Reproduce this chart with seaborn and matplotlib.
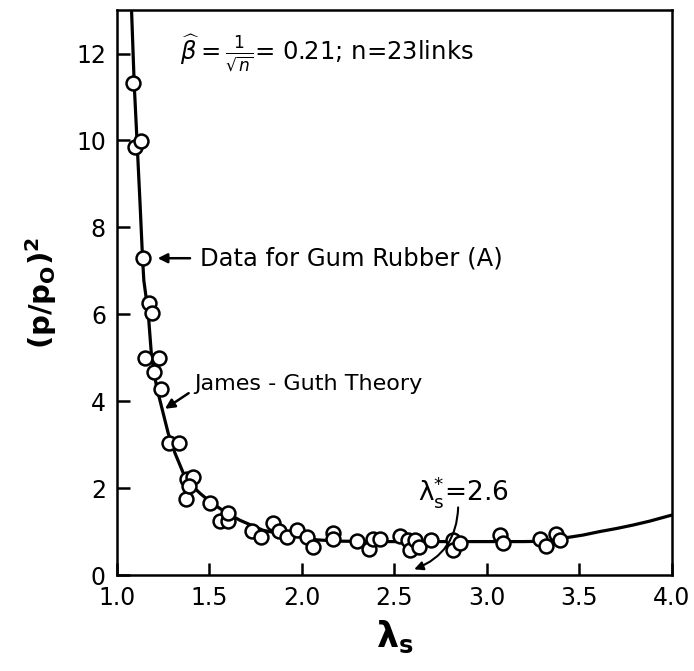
import matplotlib
matplotlib.use("Agg")
import matplotlib.pyplot as plt
import seaborn as sns
import pandas as pd

# --- data ---
lam_data = [1.088, 1.097, 1.128, 1.142, 1.175, 1.187, 1.151, 1.227, 1.200, 1.236,
            1.281, 1.337, 1.373, 1.377, 1.410, 1.390, 1.503, 1.557, 1.600, 1.600,
            1.728, 1.776, 1.841, 1.877, 1.920, 1.975, 2.025, 2.061, 2.170, 2.170,
            2.296, 2.364, 2.386, 2.420, 2.530, 2.575, 2.584, 2.610, 2.634, 2.700,
            2.818, 2.818, 2.854, 3.070, 3.088, 3.286, 3.320, 3.376, 3.395]
ratio_data = [11.32, 9.85, 9.98, 7.29, 6.25, 6.03, 5.00, 5.00, 4.67, 4.29,
              3.04, 3.04, 1.75, 2.22, 2.25, 2.05, 1.66, 1.25, 1.25, 1.42,
              1.02, 0.87, 1.19, 1.02, 0.87, 1.03, 0.87, 0.65, 0.96, 0.83,
              0.79, 0.61, 0.84, 0.82, 0.90, 0.80, 0.57, 0.80, 0.64, 0.80,
              0.80, 0.57, 0.73, 0.92, 0.73, 0.82, 0.67, 0.94, 0.80]

theory_lam = [1.079, 1.093, 1.108, 1.124, 1.138, 1.145, 1.169, 1.187, 1.214, 1.241,
              1.277, 1.314, 1.359, 1.400, 1.449, 1.500, 1.557, 1.610, 1.665, 1.730,
              1.790, 1.860, 1.935, 2.000, 2.080, 2.200, 2.400, 2.600, 2.800, 3.000,
              3.200, 3.350, 3.430, 3.520, 3.610, 3.700, 3.790, 3.880, 4.000]
theory_ratio = [12.95, 11.30, 10.00, 8.60, 7.30, 6.78, 6.02, 5.02, 4.33, 3.87,
                3.26, 2.80, 2.34, 2.08, 1.88, 1.70, 1.53, 1.39, 1.26, 1.14,
                1.03, 0.97, 0.92, 0.87, 0.81, 0.78, 0.77, 0.77, 0.77, 0.77,
                0.77, 0.78, 0.86, 0.92, 1.00, 1.07, 1.15, 1.24, 1.38]

x_ticks = [1.0, 1.5, 2.0, 2.5, 3.0, 3.5, 4.0]
x_tick_labels = ["1.0", "1.5", "2.0", "2.5", "3.0", "3.5", "4.0"]
y_ticks = [0, 2, 4, 6, 8, 10, 12]
y_tick_labels = ["0", "2", "4", "6", "8", "10", "12"]

df_data = pd.DataFrame({"lam": lam_data, "ratio": ratio_data})
df_theory = pd.DataFrame({"lam": theory_lam, "ratio": theory_ratio})

sns.set_style("ticks")
plt.rcParams["font.family"] = ["DejaVu Sans"]
plt.rcParams["mathtext.fontset"] = "dejavusans"
plt.rcParams["text.color"] = "black"
plt.rcParams["axes.labelcolor"] = "black"
plt.rcParams["xtick.color"] = "black"
plt.rcParams["ytick.color"] = "black"

fig = plt.figure(figsize=(6.94, 6.71), dpi=100)
ax = fig.add_axes([0.1686, 0.143, 0.7994, 0.842])

sns.lineplot(data=df_theory, x="lam", y="ratio", ax=ax, color="black",
             linewidth=2.3, sort=False, estimator=None, zorder=2)
sns.scatterplot(data=df_data, x="lam", y="ratio", ax=ax, s=100,
                facecolor="white", edgecolor="black", linewidth=1.8, zorder=3)

ax.set_xlim(1.0, 4.0)
ax.set_ylim(0, 13)
ax.set_xticks(x_ticks)
ax.set_xticklabels(x_tick_labels)
ax.set_yticks(y_ticks)
ax.set_yticklabels(y_tick_labels)
ax.tick_params(direction="in", length=9, width=1.8, labelsize=17, pad=8)
for sp in ax.spines.values():
    sp.set_linewidth(1.8)
    sp.set_color("black")

ax.set_xlabel(r"λ$_\mathbf{s}$", fontsize=25, fontweight="bold", labelpad=6)
ax.set_ylabel(r"(p/p$_\mathregular{O}$)$^\mathregular{2}$", fontsize=21,
              fontweight="bold", labelpad=12)

# annotations
ax.text(1.34, 12.0, r"$\widehat{\beta}=\frac{1}{\sqrt{n}}$= 0.21; n=23links",
        fontsize=17.5, va="center", ha="left")

ax.text(1.45, 7.29, "Data for Gum Rubber (A)", fontsize=17.5, va="center", ha="left")
ax.annotate("", xy=(1.205, 7.29), xytext=(1.41, 7.29),
            arrowprops=dict(arrowstyle="-|>", color="black", lw=1.8, mutation_scale=14))

ax.text(1.42, 4.40, "James - Guth Theory", fontsize=16, va="center", ha="left")
ax.annotate("", xy=(1.247, 3.79), xytext=(1.40, 4.22),
            arrowprops=dict(arrowstyle="-|>", color="black", lw=1.8, mutation_scale=14))

ax.text(2.63, 1.92, r"λ$_\mathregular{s}^{*}$=2.6", fontsize=19, va="center", ha="left")
ax.annotate("", xy=(2.593, 0.11), xytext=(2.845, 1.62),
            arrowprops=dict(arrowstyle="-|>", color="black", lw=1.5, mutation_scale=13,
                            connectionstyle="arc3,rad=-0.35"))

fig.savefig("out.png", dpi=100)
